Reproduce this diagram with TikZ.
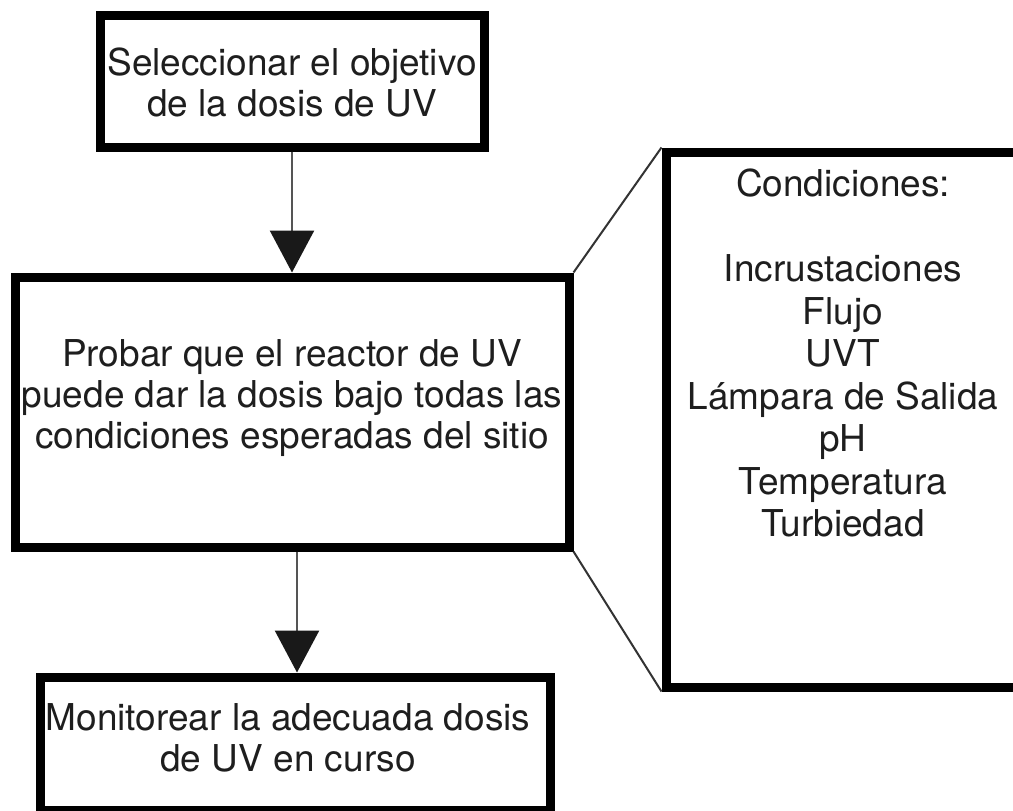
\documentclass[tikz,border=0pt]{standalone}
\usepackage{fontspec}
\setmainfont{TeX Gyre Heros}
\usetikzlibrary{arrows.meta}
\definecolor{txt}{HTML}{1E1E1E}
\definecolor{shaft}{HTML}{555555}
\tikzset{
  box/.style={draw=black, line width=9pt, rectangle, inner sep=0pt, fill=white},
  lbl/.style={align=center, text=txt, inner sep=0pt, font=\fontsize{37}{41}\selectfont},
  lblr/.style={align=center, text=txt, inner sep=0pt, font=\fontsize{37}{42.5}\selectfont},
  flow/.style={draw=shaft, line width=2.5pt, -{Triangle[length=42pt,width=44pt,color=black!90]}},
  zoomline/.style={draw=black!80, line width=2pt}
}
\begin{document}
\begin{tikzpicture}[x=1pt,y=-1pt]
\useasboundingbox (0,0) rectangle (1013,811);
\clip (0,0) rectangle (1013,811);
\fill[white] (0,0) rectangle (1013,811);
% boxes
\node[box, minimum width=384pt, minimum height=132pt] (sel) at (292,81) {};
\node[box, minimum width=554pt, minimum height=270pt] (prob) at (292,412) {};
\node[box, minimum width=510pt, minimum height=133pt] (mon) at (295,743.5) {};
\node[box, minimum width=356pt, minimum height=535pt] (cond) at (844,419.5) {};
% texts
\node[lbl] (selt) at (292,83) {Seleccionar el objetivo\\de la dosis de UV};
\node[lbl] (probt) at (292,398) {Probar que el reactor de UV\\puede dar la dosis bajo todas las\\condiciones esperadas del sitio};
\node[lbl] (mont) at (288,738) {Monitorear la adecuada dosis\\de UV en curso};
\node[lblr] (condt) at (843,353) {Condiciones:\\[42.5pt]Incrustaciones\\Flujo\\UVT\\Lámpara de Salida\\pH\\Temperatura\\Turbiedad};
% connectors
\draw[flow] (sel.south) -- (prob.north);
\draw[flow] ([xshift=5pt]prob.south) -- ([xshift=2pt]mon.north);
\draw[zoomline] (prob.north east) -- (cond.north west);
\draw[zoomline] (prob.south east) -- (cond.south west);
\end{tikzpicture}
\end{document}
